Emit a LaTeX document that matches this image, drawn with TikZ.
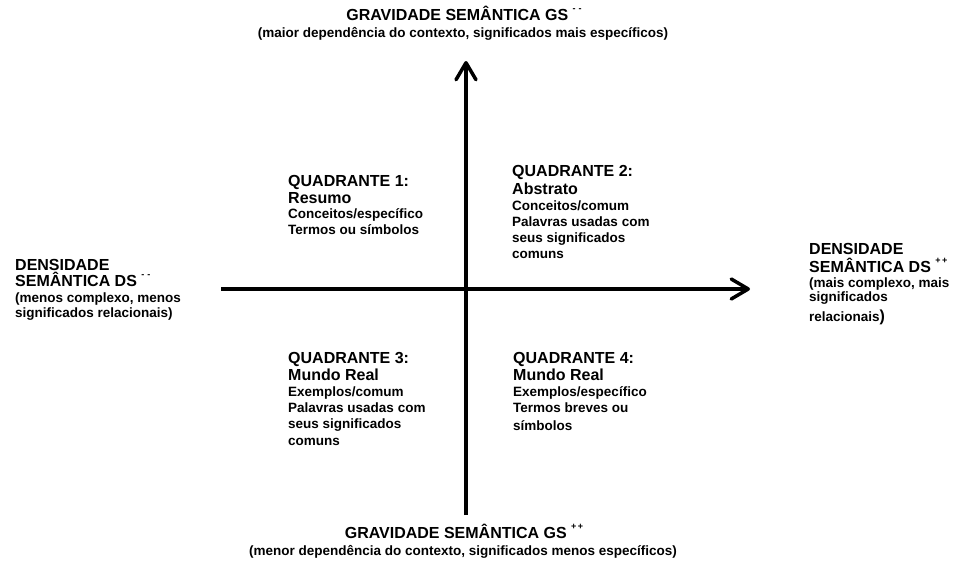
\documentclass[tikz,border=0pt]{standalone}
\usepackage{fontspec}
\setmainfont{Liberation Sans}
\usetikzlibrary{arrows.meta}
\newcommand{\fbig}{\fontsize{16}{18}\selectfont\bfseries}
\newcommand{\fsmall}{\fontsize{13.5}{16}\selectfont\bfseries}
\newcommand{\supr}[1]{\raisebox{0.55em}{\fontsize{9}{9}\selectfont #1}}
\begin{document}
\begin{tikzpicture}[x=1pt,y=-1pt,
  big/.style={anchor=base west, inner sep=0pt, font=\fbig},
  small/.style={anchor=base west, inner sep=0pt, font=\fsmall},
  bigc/.style={anchor=base, inner sep=0pt, font=\fbig},
  smallc/.style={anchor=base, inner sep=0pt, font=\fsmall},
  axis/.style={line width=3.5pt, -{Straight Barb[length=17pt,width=20pt,round]}}]
\useasboundingbox (0,0) rectangle (956,574);
% axes
\coordinate (vb) at (466,515);
\coordinate (vt) at (466,61);
\coordinate (hl) at (221,289);
\coordinate (hr) at (750,289);
\draw[axis] (vb) -- (vt);
\draw[axis] (hl) -- (hr);
% top label
\node[bigc] (gt1) at (464,20) {GRAVIDADE SEMÂNTICA GS \supr{-\,\,-}};
\node[smallc] (gt2) at (463,37) {(maior dependência do contexto, significados mais específicos)};
% bottom label
\node[bigc] (gb1) at (464,538) {GRAVIDADE SEMÂNTICA GS \supr{+\,+}};
\node[smallc] (gb2) at (463,555) {(menor dependência do contexto, significados menos específicos)};
% left label
\node[big] (l1) at (15,270) {DENSIDADE};
\node[big] (l2) at (15,286) {SEMÂNTICA DS \supr{-\,\,-}};
\node[small] (l3) at (15,302) {(menos complexo, menos};
\node[small] (l4) at (15,317) {significados relacionais)};
% right label
\node[big] (r1) at (809,254) {DENSIDADE};
\node[big] (r2) at (809,272) {SEMÂNTICA DS \supr{+\,+}};
\node[small] (r3) at (809,287) {(mais complexo, mais};
\node[small] (r4) at (809,301) {significados};
\node[small] (r5) at (809,321) {relacionais{\fbig)}};
% quadrant 1
\node[big] (q1a) at (288,186) {QUADRANTE 1:};
\node[big] (q1b) at (288,203) {Resumo};
\node[small] (q1c) at (288,218) {Conceitos/específico};
\node[small] (q1d) at (288,234) {Termos ou símbolos};
% quadrant 2
\node[big] (q2a) at (512,176) {QUADRANTE 2:};
\node[big] (q2b) at (512,194) {Abstrato};
\node[small] (q2c) at (512,210) {Conceitos/comum};
\node[small] (q2d) at (512,226) {Palavras usadas com};
\node[small] (q2e) at (512,242) {seus significados};
\node[small] (q2f) at (512,258) {comuns};
% quadrant 3
\node[big] (q3a) at (288,363) {QUADRANTE 3:};
\node[big] (q3b) at (288,380) {Mundo Real};
\node[small] (q3c) at (288,396) {Exemplos/comum};
\node[small] (q3d) at (288,412) {Palavras usadas com};
\node[small] (q3e) at (288,428) {seus significados};
\node[small] (q3f) at (288,445) {comuns};
% quadrant 4
\node[big] (q4a) at (513,363) {QUADRANTE 4:};
\node[big] (q4b) at (513,380) {Mundo Real};
\node[small] (q4c) at (513,396) {Exemplos/específico};
\node[small] (q4d) at (513,412) {Termos breves ou};
\node[small] (q4e) at (513,430) {símbolos};
\end{tikzpicture}
\end{document}
